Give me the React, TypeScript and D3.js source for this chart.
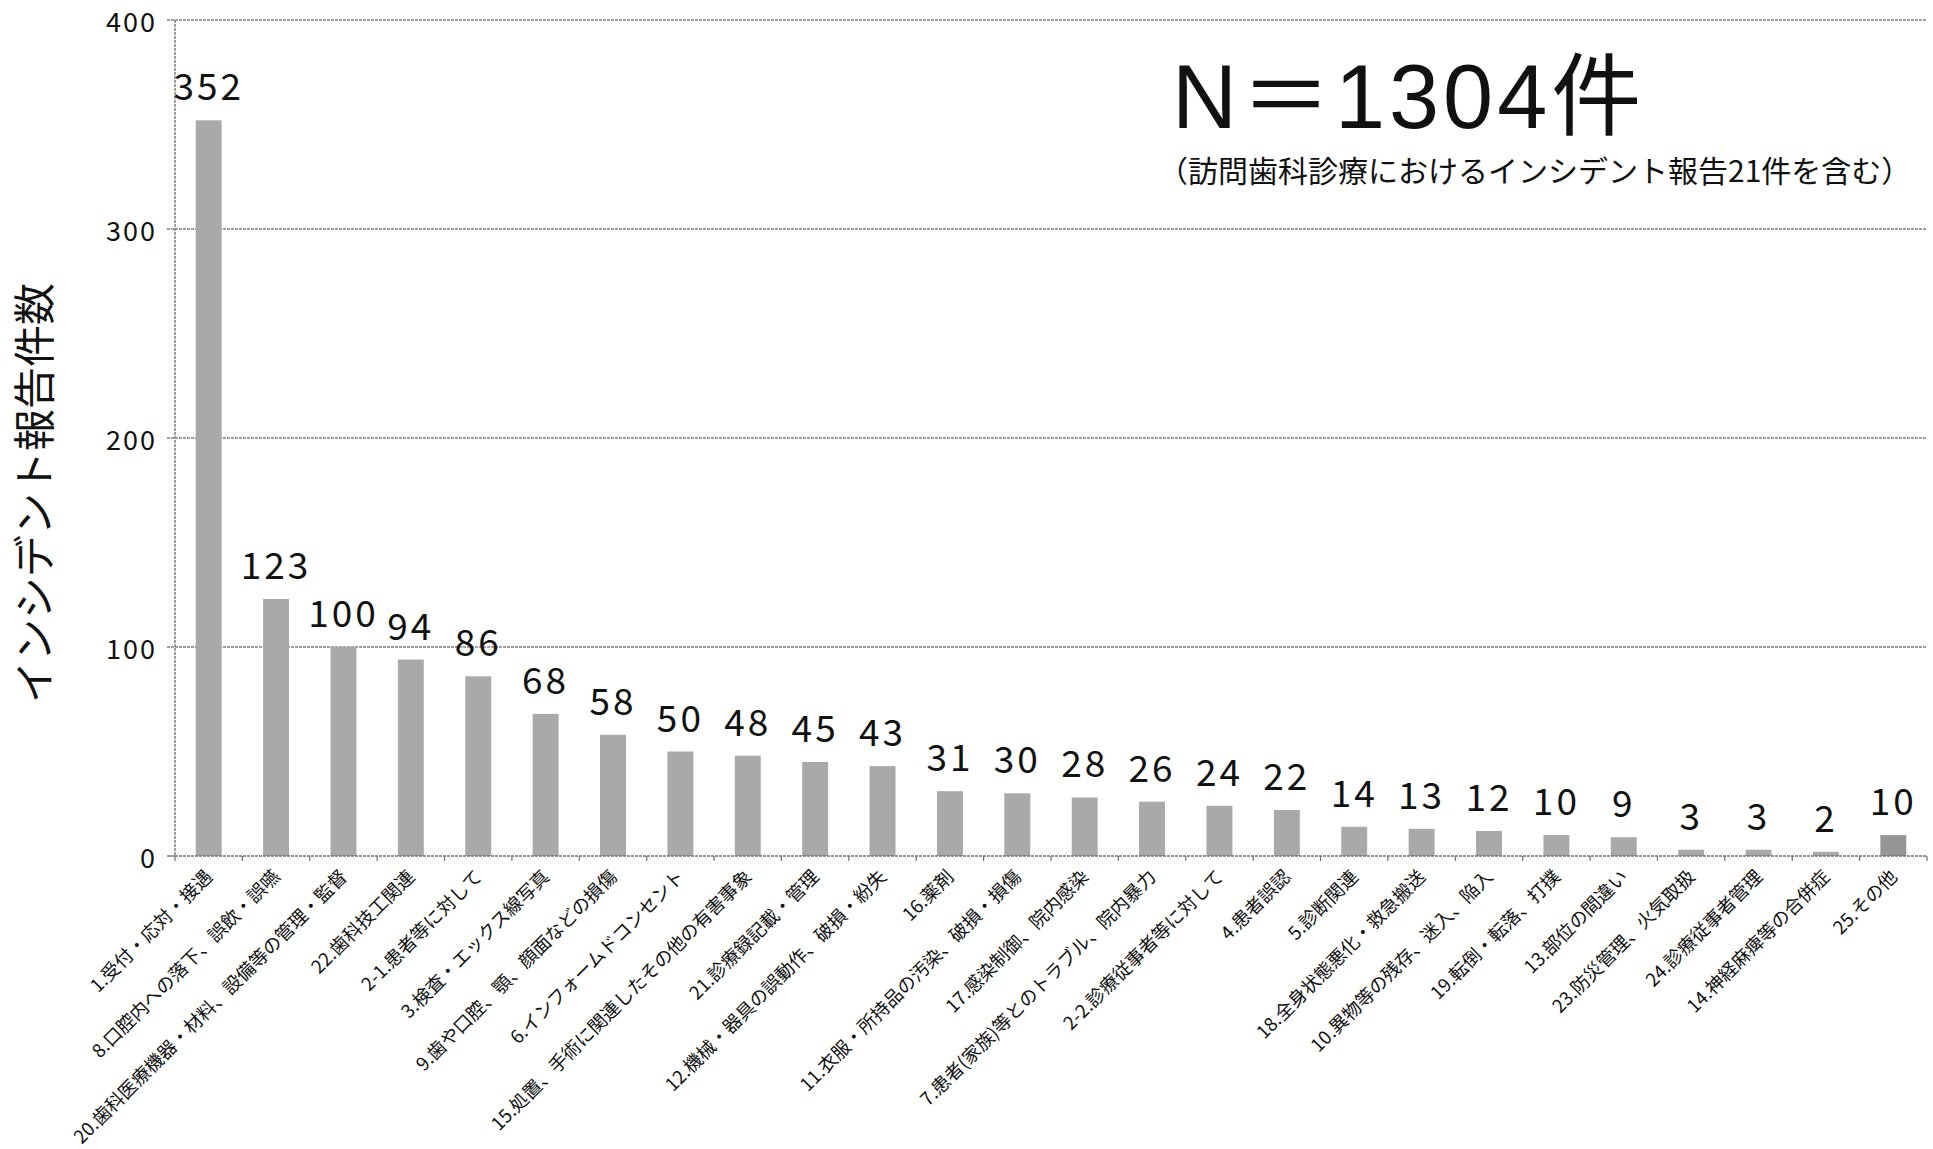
import React, { useRef, useEffect } from 'react';
import * as d3 from 'd3';

const categories = [
  '1.受付・応対・接遇',
  '8.口腔内への落下、誤飲・誤嚥',
  '20.歯科医療機器・材料、設備等の管理・監督',
  '22.歯科技工関連',
  '2-1.患者等に対して',
  '3.検査・エックス線写真',
  '9.歯や口腔、顎、顔面などの損傷',
  '6.インフォームドコンセント',
  '15.処置、手術に関連したその他の有害事象',
  '21.診療録記載・管理',
  '12.機械・器具の誤動作、破損・紛失',
  '16.薬剤',
  '11.衣服・所持品の汚染、破損・損傷',
  '17.感染制御、院内感染',
  '7.患者(家族)等とのトラブル、院内暴力',
  '2-2.診療従事者等に対して',
  '4.患者誤認',
  '5.診断関連',
  '18.全身状態悪化・救急搬送',
  '10.異物等の残存、迷入、陥入',
  '19.転倒・転落、打撲',
  '13.部位の間違い',
  '23.防災管理、火気取扱',
  '24.診療従事者管理',
  '14.神経麻痺等の合併症',
  '25.その他',
];

const counts = [352, 123, 100, 94, 86, 68, 58, 50, 48, 45, 43, 31, 30, 28, 26, 24, 22, 14, 13, 12, 10, 9, 3, 3, 2, 10];

const yTicks = [0, 100, 200, 300, 400];

const FONT = '"Noto Sans CJK JP", "Noto Sans", sans-serif';

const App: React.FC = () => {
  const svgRef = useRef<SVGSVGElement>(null);
  const width = 1933;
  const height = 1149;

  useEffect(() => {
    if (!svgRef.current) return;
    const svg = d3.select(svgRef.current);
    svg.selectAll('*').remove();

    const margin = { top: 20, right: 6, bottom: 293, left: 175 };
    const w = width - margin.left - margin.right;
    const h = height - margin.top - margin.bottom;

    const g = svg.append('g').attr('transform', `translate(${margin.left},${margin.top})`);

    const data = categories.map((c, i) => ({ cat: c, v: counts[i] }));

    const x = d3.scaleBand().domain(categories).range([0, w]).paddingInner(0.615).paddingOuter(0.3075);
    const step = w / categories.length;
    const y = d3.scaleLinear().domain([0, 400]).range([h, 0]);

    // gridlines
    g.selectAll('.grid')
      .data(yTicks.filter(t => t > 0))
      .enter()
      .append('line')
      .attr('x1', -8)
      .attr('x2', w)
      .attr('y1', d => y(d))
      .attr('y2', d => y(d))
      .attr('stroke', '#808080')
      .attr('stroke-width', 1.3)
      .attr('stroke-dasharray', '3,1');

    // y axis line + zero tick
    g.append('line').attr('x1', 0).attr('x2', 0).attr('y1', 0).attr('y2', h)
      .attr('stroke', '#808080').attr('stroke-width', 1.5).attr('stroke-dasharray', '3,1');
    g.append('line').attr('x1', -8).attr('x2', 0).attr('y1', h).attr('y2', h)
      .attr('stroke', '#808080').attr('stroke-width', 1.5);

    // bars
    g.selectAll('.bar')
      .data(data)
      .enter()
      .append('rect')
      .attr('x', d => x(d.cat)!)
      .attr('y', d => y(d.v))
      .attr('width', x.bandwidth())
      .attr('height', d => h - y(d.v))
      .attr('fill', (d, i) => (i === data.length - 1 ? '#969696' : '#a9a9a9'));

    // x axis
    g.append('line').attr('x1', 0).attr('x2', w).attr('y1', h).attr('y2', h)
      .attr('stroke', '#707070').attr('stroke-width', 1.5).attr('stroke-dasharray', '3,1');
    g.selectAll('.xtick')
      .data(d3.range(categories.length + 1))
      .enter()
      .append('line')
      .attr('x1', i => i * step)
      .attr('x2', i => i * step)
      .attr('y1', h)
      .attr('y2', h + 5)
      .attr('stroke', '#707070')
      .attr('stroke-width', 1.2);

    // y tick labels
    g.selectAll('.ylab')
      .data(yTicks)
      .enter()
      .append('text')
      .attr('x', -18)
      .attr('y', d => y(d))
      .attr('text-anchor', 'end')
      .attr('dominant-baseline', 'central')
      .attr('font-family', FONT)
      .attr('font-size', '27px')
      .attr('letter-spacing', '2px')
      .attr('fill', '#111')
      .text(d => d);

    // value labels
    g.selectAll('.vlab')
      .data(data)
      .enter()
      .append('text')
      .attr('x', d => x(d.cat)! + x.bandwidth() / 2)
      .attr('y', d => y(d.v) - 20)
      .attr('text-anchor', 'middle')
      .attr('font-family', FONT)
      .attr('font-size', '37px')
      .attr('letter-spacing', '3px')
      .attr('fill', '#111')
      .text(d => d.v);

    // category labels
    g.selectAll('.clab')
      .data(data)
      .enter()
      .append('text')
      .attr('transform', d => `translate(${x(d.cat)! + x.bandwidth() / 2 + 5},${h + 22}) rotate(-45)`)
      .attr('text-anchor', 'end')
      .attr('font-family', FONT)
      .attr('font-size', '18.5px')
      .attr('fill', '#111')
      .text(d => d.cat);

    // y axis title
    svg.append('text')
      .attr('transform', 'translate(50,493) rotate(-90)')
      .attr('text-anchor', 'middle')
      .attr('font-family', FONT)
      .attr('font-size', '42px')
      .attr('fill', '#111')
      .text('インシデント報告件数');

    // N annotation
    svg.append('text')
      .attr('x', 1172)
      .attr('y', 128)
      .attr('font-family', '"Liberation Sans", "Noto Sans CJK JP", sans-serif')
      .attr('font-size', '90px')
      .attr('letter-spacing', '4px')
      .attr('fill', '#111')
      .text('N＝1304件');

    svg.append('text')
      .attr('x', 1158)
      .attr('y', 182)
      .attr('font-family', FONT)
      .attr('font-size', '30px')
      .attr('fill', '#111')
      .text('（訪問歯科診療におけるインシデント報告21件を含む）');
  }, []);

  return (
    <svg
      ref={svgRef}
      width={width}
      height={height}
      style={{ position: 'absolute', left: 0, top: 0, background: '#fff' }}
    />
  );
};

export default App;
